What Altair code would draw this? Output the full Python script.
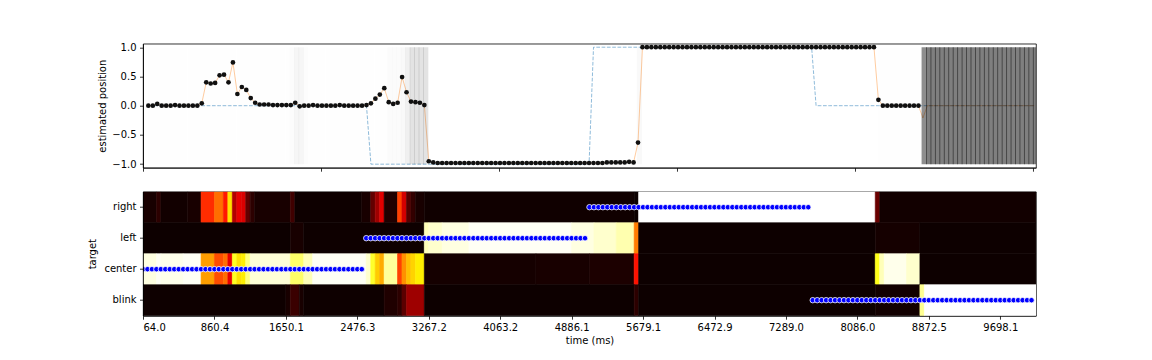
import json
import altair as alt
import pandas as pd

# ---------------- data ----------------
rows = ["right", "left", "center", "blink"]
tick_frames = [0, 16, 32, 48, 64, 80, 96, 112, 128, 144, 160, 176, 192]
tick_labels = ["64.0", "860.4", "1650.1", "2476.3", "3267.2", "4063.2", "4886.1",
               "5679.1", "6472.9", "7289.0", "8086.0", "8872.5", "9698.1"]
top_ticks = [0, 40, 80, 120, 160, 200]
pos_ticks = [-1.0, -0.5, 0.0, 0.5, 1.0]

target = ["center"] * 50 + ["left"] * 50 + ["right"] * 50 + ["blink"] * 50
target_value = {"center": 0.0, "left": -1.0, "right": 1.0, "blink": 0.0}

est = ([0.0, 0.0, 0.03, 0.0, 0.0, 0.0, 0.01, 0.0, 0.0, 0.0,
        0.0, 0.0, 0.04, 0.40, 0.38, 0.39, 0.52, 0.53, 0.40, 0.74,
        0.20, 0.32, 0.27, 0.13, 0.05, 0.02, 0.02, 0.02, 0.01, 0.01,
        0.01, 0.01, 0.01, 0.05, -0.01, 0.0, 0.0, 0.01, 0.0, 0.0,
        0.0, 0.0, 0.0, 0.01, 0.0, 0.0, 0.0, 0.0, 0.0, 0.01,
        0.04, 0.12, 0.19, 0.30, 0.06, 0.03, 0.05, 0.49, 0.23, 0.07,
        0.06, 0.05, 0.01, -0.95, -0.97, -0.98, -0.98, -0.98, -0.98, -0.98,
        -0.98, -0.98, -0.98, -0.98, -0.98, -0.98, -0.98, -0.98, -0.98, -0.98,
        -0.98, -0.98, -0.98, -0.98, -0.98, -0.98, -0.98, -0.98, -0.98, -0.98,
        -0.98, -0.98, -0.98, -0.98, -0.98, -0.98, -0.98, -0.98, -0.98, -0.98,
        -0.98, -0.98, -0.98, -0.97, -0.97, -0.97, -0.97, -0.97, -0.96, -0.97,
        -0.63]
       + [1.0] * 53 + [0.10] + [0.0] * 9 + [-0.21] + [0.0] * 25)

# heatmap rows as (value, number of frames) runs
right_runs = [(0.02, 3), (0.05, 1), (0.01, 6), (0.02, 3), (0.43, 3), (0.53, 2), (0.40, 1),
              (0.70, 1), (0.25, 1), (0.33, 1), (0.31, 1), (0.13, 1), (0.05, 1), (0.02, 8),
              (0.08, 1), (0.005, 15), (0.02, 2), (0.13, 1), (0.22, 1), (0.32, 1), (0.03, 3),
              (0.46, 1), (0.30, 1), (0.11, 1), (0.06, 1), (0.02, 2),
              (0.008, 47), (0.0, 1), (1.0, 53), (0.14, 1), (0.01, 35)]
left_runs = [(0.003, 33), (0.02, 3), (0.005, 27), (0.93, 1), (0.95, 3), (0.97, 6), (0.99, 23),
             (0.97, 5), (0.95, 5), (0.92, 4), (0.55, 1), (0.003, 53), (0.015, 10), (0.003, 26)]
center_runs = [(0.97, 3), (0.99, 1), (0.98, 5), (0.99, 4), (0.60, 3), (0.48, 2), (0.53, 1),
               (0.33, 1), (0.78, 1), (0.70, 1), (0.72, 1), (0.87, 1), (0.96, 9), (0.85, 3),
               (0.93, 2), (0.99, 12), (0.95, 1), (0.79, 1), (0.67, 1), (0.62, 1), (0.90, 3),
               (0.46, 1), (0.58, 1), (0.65, 1), (0.68, 1), (0.72, 2), (0.015, 25),
               (0.02, 12), (0.025, 10), (0.39, 1), (0.003, 53), (0.77, 1), (0.93, 1), (0.98, 5),
               (0.95, 3), (0.003, 26)]
blink_runs = [(0.005, 32), (0.02, 1), (0.07, 2), (0.02, 1), (0.005, 18), (0.03, 3), (0.05, 1),
              (0.12, 1), (0.22, 4), (0.003, 47), (0.05, 1), (0.003, 53), (0.01, 10), (0.89, 1),
              (1.0, 25)]

# ---------------- tables ----------------
row_runs = dict(zip(rows, [right_runs, left_runs, center_runs, blink_runs]))
cells = []
blink = []
for r in rows:
    start = 0
    for v, n in row_runs[r]:
        cells.append({"row": r, "x0": start, "x1": start + n, "p": v})
        start += n
        if r == "blink":
            blink += [v] * n
cells_df = pd.DataFrame(cells)

n = len(est)
top_df = pd.DataFrame({
    "frame": list(range(n)),
    "est": est,
    "tpos": [target_value[t] for t in target],
    "blink": blink,
})
top_df["t"] = top_df["frame"] + 1.2
top_df["show"] = top_df["blink"] < 0.5
top_df["g0"] = top_df["frame"] + 0.9
top_df["g1"] = top_df["frame"] + 2.1
top_df["alpha"] = 0.5 * top_df["blink"]

dots_df = pd.DataFrame({"frame": list(range(n)), "target": target})

W = 893
H = 124

# ---------------- top panel ----------------
xs_top = alt.Scale(domain=[0, 200.6], nice=False, zero=False)
ys_top = alt.Scale(domain=[-1.06, 1.06], nice=False, zero=False)
x_top_axis = alt.Axis(values=top_ticks, labels=False, title=None, grid=False)
y_top_axis = alt.Axis(values=pos_ticks, tickCount=5,
                      labelExpr="replace(format(datum.value, '.1f'), '-', '\u2212')",
                      labelOverlap=False, title="estimated position",
                      titlePadding=4, grid=False)

base_top = alt.Chart(top_df)
tline = base_top.mark_line(color="#1f77b4", opacity=0.5, strokeDash=[3.7, 1.6], strokeWidth=1).encode(
    x=alt.X("t:Q", scale=xs_top, axis=x_top_axis),
    y=alt.Y("tpos:Q", scale=ys_top, axis=y_top_axis),
)
eline = base_top.mark_line(color="#ff7f0e", opacity=0.4, strokeWidth=1).encode(
    x=alt.X("t:Q", scale=xs_top, axis=x_top_axis),
    y=alt.Y("est:Q", scale=ys_top, axis=y_top_axis))
edots = base_top.mark_circle(color="#111111", size=22, opacity=1).encode(
    x=alt.X("t:Q", scale=xs_top, axis=x_top_axis),
    y=alt.Y("est:Q", scale=ys_top, axis=y_top_axis)).transform_filter("datum.show")
gray = base_top.mark_rect(fill="black", clip=True).encode(
    x=alt.X("g0:Q", scale=xs_top, axis=x_top_axis), x2="g1:Q",
    y=alt.datum(1.0), y2=alt.datum(-1.0),
    opacity=alt.Opacity("alpha:Q", scale=None))

top_chart = alt.layer(tline, eline, edots, gray).properties(width=W, height=H)

# ---------------- bottom panel ----------------
xs_bot = alt.Scale(domain=[0, 200], nice=False, zero=False)
ys_bot = alt.Scale(domain=rows, paddingInner=0, paddingOuter=0)
hot = alt.Scale(domain=[0, 0.365, 0.746, 1],
                range=["#0b0000", "#ff0000", "#ffff00", "#ffffff"], interpolate="rgb")
label_expr = "[" + ",".join("'" + s + "'" for s in tick_labels) + "][indexof(" + json.dumps(tick_frames) + ", datum.value)]"

heat = alt.Chart(cells_df).mark_rect(clip=True, strokeWidth=0.6).encode(
    x=alt.X("x0:Q", scale=xs_bot,
            axis=alt.Axis(values=tick_frames, labelExpr=label_expr, title="time (ms)",
                          titlePadding=3, grid=False)),
    x2="x1:Q",
    y=alt.Y("row:N", scale=ys_bot, sort=rows,
            axis=alt.Axis(title="target", titlePadding=6, grid=False)),
    color=alt.Color("p:Q", scale=hot, legend=None),
    stroke=alt.Stroke("p:Q", scale=hot, legend=None),
)
bdots = alt.Chart(dots_df).mark_point(shape="circle", filled=True, fill="#0000ff", stroke="white",
                                      strokeWidth=0.8, size=30, opacity=1, clip=True).encode(
    x="frame:Q", y=alt.Y("target:N", sort=rows))

bottom_chart = alt.layer(heat, bdots).properties(width=W, height=H)

chart = alt.vconcat(top_chart, bottom_chart, spacing=18).properties(
    padding={"left": 79, "top": 33.7, "right": 5, "bottom": 5}
).configure_view(stroke="black", strokeWidth=0.8).configure_axis(
    labelFont="DejaVu Sans", labelFontSize=10, titleFont="DejaVu Sans", titleFontSize=10,
    titleFontWeight="normal", labelColor="black", titleColor="black",
    domainColor="black", tickColor="black", domainWidth=0.8, tickWidth=0.8,
    tickSize=3.5, labelPadding=3.5, grid=False)

chart.save("out.html", embed_options={"renderer": "svg", "actions": False})
